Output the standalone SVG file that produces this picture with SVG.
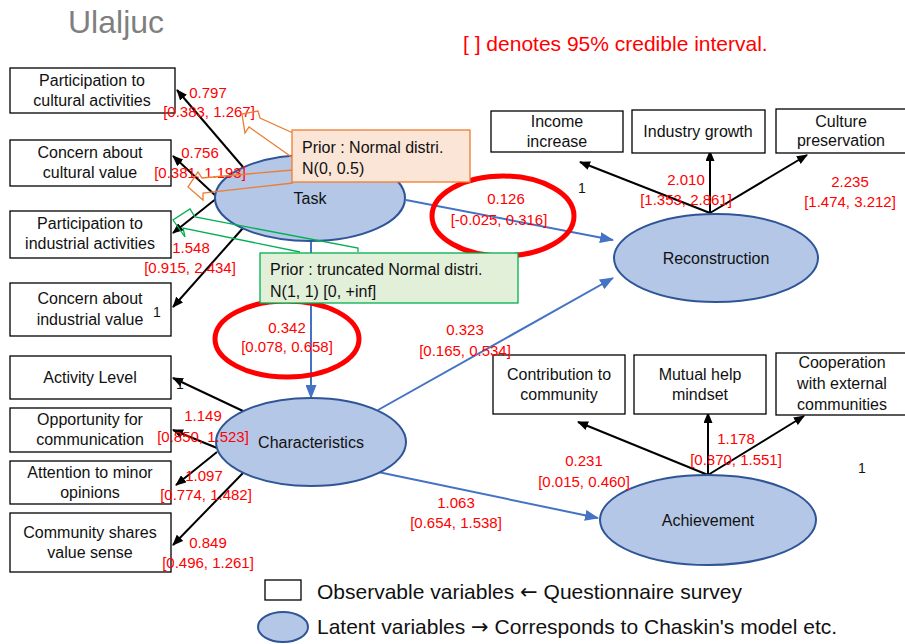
<svg xmlns="http://www.w3.org/2000/svg" width="905" height="644" viewBox="0 0 905 644">
<defs>
<style>
text{font-family:"Liberation Sans",Arial,sans-serif;}
.box{fill:#fff;stroke:#000;stroke-width:1.3;}
.bt{font-size:16px;fill:#111;text-anchor:middle;}
.lat{fill:#b4c7e7;stroke:#2f5597;stroke-width:2;}
.lt{font-size:16px;fill:#111;text-anchor:middle;}
.red{font-size:15px;fill:#ff0000;text-anchor:middle;}
.one{font-size:14px;fill:#111;text-anchor:middle;}
.blk{stroke:#000;stroke-width:2;fill:none;marker-end:url(#ab);}
.blue{stroke:#4472c4;stroke-width:2;fill:none;marker-end:url(#au);}
.ring{fill:none;stroke:#ff0000;stroke-width:5;}
.ct{font-size:16px;fill:#111;}
.arw{font-family:"DejaVu Sans",sans-serif;}
</style>
<marker id="ab" markerUnits="userSpaceOnUse" markerWidth="11" markerHeight="9" refX="10" refY="4.5" orient="auto"><path d="M0,0 L11,4.5 L0,9 z" fill="#000"/></marker>
<marker id="au" markerUnits="userSpaceOnUse" markerWidth="14" markerHeight="11" refX="13" refY="5.5" orient="auto"><path d="M0,0 L14,5.5 L0,11 z" fill="#4472c4"/></marker>
</defs>
<rect width="905" height="644" fill="#fff"/>
<text x="68" y="33" font-size="32" fill="#7f7f7f">Ulaljuc</text>
<text x="463" y="51" font-size="21" fill="#ff0000">[ ] denotes 95% credible interval.</text>

<g id="connectors">
<line class="blk" x1="243" y1="167" x2="177" y2="90"/>
<line class="blk" x1="217" y1="197" x2="173" y2="156"/>
<line class="blk" x1="217" y1="198" x2="173" y2="233"/>
<line class="blk" x1="243" y1="228" x2="173" y2="307"/>
<line class="blk" x1="243" y1="411" x2="173" y2="378"/>
<line class="blk" x1="217" y1="448" x2="173" y2="430"/>
<line class="blk" x1="217" y1="452" x2="176" y2="485"/>
<line class="blk" x1="243" y1="473" x2="173" y2="545"/>
<line class="blk" x1="710" y1="213" x2="580" y2="162"/>
<line class="blk" x1="710" y1="213" x2="710" y2="151"/>
<line class="blk" x1="710" y1="213" x2="807" y2="155"/>
<line class="blk" x1="708" y1="475" x2="578" y2="422"/>
<line class="blk" x1="708" y1="475" x2="708" y2="413"/>
<line class="blk" x1="708" y1="475" x2="804" y2="416"/>
<line class="blue" x1="406" y1="200" x2="613" y2="240"/>
<line class="blue" x1="311" y1="242" x2="311" y2="398"/>
<line class="blue" x1="378" y1="410" x2="613" y2="278"/>
<line class="blue" x1="378" y1="472" x2="598" y2="518"/>
</g>

<g id="obs-pca"><rect class="box" x="10" y="68" width="165" height="45"/><text class="bt" x="92" y="86">Participation to</text><text class="bt" x="92" y="106">cultural activities</text></g>
<g id="obs-cacv"><rect class="box" x="10" y="140" width="161" height="46"/><text class="bt" x="90" y="158">Concern about</text><text class="bt" x="90" y="178">cultural value</text></g>
<g id="obs-pia"><rect class="box" x="10" y="211" width="161" height="47"/><text class="bt" x="90" y="229">Participation to</text><text class="bt" x="90" y="249">industrial activities</text></g>
<g id="obs-caiv"><rect class="box" x="10" y="283" width="161" height="53"/><text class="bt" x="90" y="304">Concern about</text><text class="bt" x="90" y="325">industrial value</text></g>

<g id="obs-al"><rect class="box" x="10" y="356" width="161" height="43"/><text class="bt" x="90" y="383">Activity Level</text></g>
<g id="obs-oc"><rect class="box" x="10" y="408" width="161" height="44"/><text class="bt" x="90" y="425">Opportunity for</text><text class="bt" x="90" y="445">communication</text></g>
<g id="obs-am"><rect class="box" x="10" y="461" width="161" height="43"/><text class="bt" x="90" y="478">Attention to minor</text><text class="bt" x="90" y="498">opinions</text></g>
<g id="obs-cs"><rect class="box" x="10" y="513" width="161" height="59"/><text class="bt" x="90" y="538">Community shares</text><text class="bt" x="90" y="558">value sense</text></g>

<g id="obs-ii"><rect class="box" x="491" y="111" width="132" height="41"/><text class="bt" x="557" y="127">Income</text><text class="bt" x="557" y="147">increase</text></g>
<g id="obs-ig"><rect class="box" x="632" y="110" width="133" height="43"/><text class="bt" x="698" y="137">Industry growth</text></g>
<g id="obs-cp"><rect class="box" x="776" y="109" width="135" height="44"/><text class="bt" x="841" y="127">Culture</text><text class="bt" x="841" y="146">preservation</text></g>

<g id="obs-cc"><rect class="box" x="493" y="355" width="132" height="59"/><text class="bt" x="559" y="380">Contribution to</text><text class="bt" x="559" y="400">community</text></g>
<g id="obs-mh"><rect class="box" x="634" y="355" width="132" height="59"/><text class="bt" x="700" y="380">Mutual help</text><text class="bt" x="700" y="400">mindset</text></g>
<g id="obs-ce"><rect class="box" x="776" y="353" width="135" height="62"/><text class="bt" x="842" y="368">Cooperation</text><text class="bt" x="842" y="389">with external</text><text class="bt" x="842" y="410">communities</text></g>

<g id="task"><ellipse class="lat" cx="310" cy="198" rx="95" ry="43"/><text class="lt" x="310" y="204">Task</text></g>
<g id="reconstruction"><ellipse class="lat" cx="716" cy="258" rx="102" ry="44"/><text class="lt" x="716" y="264">Reconstruction</text></g>
<g id="characteristics"><ellipse class="lat" cx="311" cy="442" rx="95" ry="44"/><text class="lt" x="311" y="448">Characteristics</text></g>
<g id="achievement"><ellipse class="lat" cx="708" cy="520" rx="108" ry="45"/><text class="lt" x="708" y="526">Achievement</text></g>

<g id="labels">
<text class="red" x="208" y="98">0.797</text><text class="red" x="209" y="117">[0.383, 1.267]</text>
<text class="red" x="200" y="158">0.756</text><text class="red" x="200" y="178">[0.381, 1.193]</text>
<text class="red" x="191" y="253">1.548</text><text class="red" x="190" y="273">[0.915,  2.434]</text>
<text class="one" x="157" y="317">1</text>
<text class="one" x="180" y="389">1</text>
<text class="red" x="203" y="421">1.149</text><text class="red" x="203" y="442">[0.850, 1.523]</text>
<text class="red" x="204" y="481">1.097</text><text class="red" x="206" y="500">[0.774, 1.482]</text>
<text class="red" x="208" y="548">0.849</text><text class="red" x="208" y="568">[0.496, 1.261]</text>
<text class="red" x="287" y="333">0.342</text><text class="red" x="287" y="352">[0.078, 0.658]</text>
<text class="red" x="465" y="335">0.323</text><text class="red" x="465" y="356">[0.165, 0.534]</text>
<text class="red" x="506" y="204">0.126</text><text class="red" x="499" y="225">[-0.025, 0.316]</text>
<text class="one" x="582" y="193">1</text>
<text class="red" x="686" y="185">2.010</text><text class="red" x="686" y="205">[1.353, 2.861]</text>
<text class="red" x="850" y="187">2.235</text><text class="red" x="850" y="207">[1.474, 3.212]</text>
<text class="red" x="736" y="444">1.178</text><text class="red" x="736" y="465">[0.870, 1.551]</text>
<text class="one" x="862" y="473">1</text>
<text class="red" x="584" y="466">0.231</text><text class="red" x="584" y="487">[0.015, 0.460]</text>
<text class="red" x="456" y="508">1.063</text><text class="red" x="456" y="528">[0.654, 1.538]</text>
</g>

<g id="rings">
<ellipse class="ring" cx="503" cy="216" rx="71" ry="40"/>
<ellipse class="ring" cx="287" cy="339" rx="72" ry="38"/>
</g>

<g id="prior-normal">
<polyline points="293,133 260,118 258,111 242,114 245,133 249,127 293,158" fill="none" stroke="#ed7d31" stroke-width="1.3"/>
<polyline points="293,170 202,178 198,172 188,187 203,200 203,193 293,183" fill="none" stroke="#ed7d31" stroke-width="1.3"/>
<rect x="292" y="130" width="178" height="52" fill="#fbe5d6" stroke="#ed7d31" stroke-width="1.3"/>
<text class="ct" x="302" y="153">Prior : Normal distri.</text>
<text class="ct" x="302" y="174">N(0, 0.5)</text>
</g>
<g id="prior-truncated">
<polyline points="358,252 358,248 195,217 190,209 173,220 185,237 183,228 300,252" fill="none" stroke="#00b050" stroke-width="1.3"/>
<rect x="260" y="253" width="258" height="50" fill="#e2f0d9" stroke="#00b050" stroke-width="1.3"/>
<text class="ct" x="270" y="275">Prior : truncated Normal distri.</text>
<text class="ct" x="270" y="297">N(1, 1) [0, +inf]</text>
</g>

<g id="legend">
<rect x="265" y="580" width="36" height="20" fill="#fff" stroke="#000" stroke-width="1.3"/>
<text x="317" y="599" font-size="21" fill="#111">Observable variables <tspan class="arw">←</tspan> Questionnaire survey</text>
<ellipse cx="283" cy="627" rx="25" ry="15" fill="#b4c7e7" stroke="#2f5597" stroke-width="2"/>
<text x="317" y="634" font-size="21" fill="#111">Latent variables <tspan class="arw">→</tspan> Corresponds to Chaskin's model etc.</text>
</g>
</svg>
